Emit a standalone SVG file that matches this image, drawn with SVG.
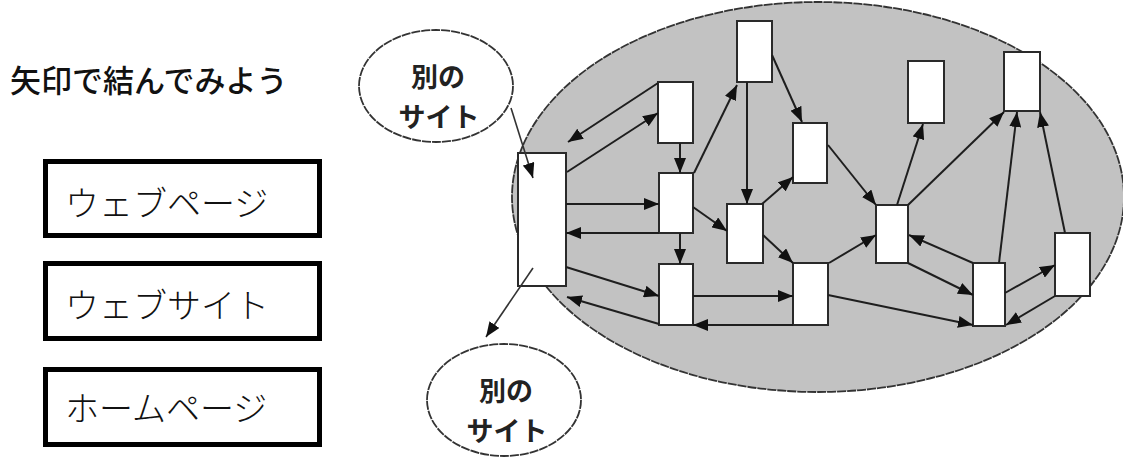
<svg xmlns="http://www.w3.org/2000/svg" width="1123" height="458" viewBox="0 0 1123 458">
<defs>
<style>
.page{fill:#fff;stroke:#2a2a2a;stroke-width:2}
.lbl{fill:#fff;stroke:#000;stroke-width:5}
.lt{font-family:"Noto Sans CJK JP",sans-serif;font-size:34px;font-weight:300;fill:#111}
.site{fill:#fff;stroke:#333;stroke-width:1.8;stroke-dasharray:9 1}
.st{font-family:"Noto Sans CJK JP",sans-serif;font-size:27px;font-weight:bold;fill:#222;text-anchor:middle}
.e{stroke:#1e1e1e;stroke-width:2;fill:none;marker-end:url(#ah)}
.x{stroke:#333;stroke-width:1.6;fill:none;marker-end:url(#ah)}
</style>
<marker id="ah" markerUnits="userSpaceOnUse" markerWidth="15" markerHeight="12" refX="15" refY="6" orient="auto">
<path d="M0,0 L15,6 L0,12 z" fill="#111"/>
</marker>
</defs>
<rect width="1123" height="458" fill="#fff"/>
<g id="title"><text x="10" y="92" font-family="'Noto Sans CJK JP',sans-serif" font-size="31" font-weight="500" fill="#111">矢印で結んでみよう</text></g>
<g id="label-webpage"><rect class="lbl" x="45.5" y="161.5" width="274" height="74"/><text class="lt" x="65" y="216">ウェブページ</text></g>
<g id="label-website"><rect class="lbl" x="45.5" y="263.5" width="274" height="75"/><text class="lt" x="65" y="318">ウェブサイト</text></g>
<g id="label-homepage"><rect class="lbl" x="45.5" y="369.5" width="274" height="75"/><text class="lt" x="65" y="421">ホームページ</text></g>
<g id="site-area"><ellipse cx="818" cy="197" rx="306" ry="195" fill="#c2c2c2" stroke="#333" stroke-width="1.8" stroke-dasharray="9 1"/></g>
<g id="other-site-top"><ellipse class="site" cx="436" cy="86" rx="77" ry="56"/><text class="st" x="438" y="87">別の</text><text class="st" x="439" y="127">サイト</text></g>
<g id="other-site-bottom"><ellipse class="site" cx="504" cy="400" rx="77" ry="56"/><text class="st" x="506" y="401">別の</text><text class="st" x="507" y="441">サイト</text></g>
<g id="A"><rect class="page" x="518" y="153" width="48" height="133"/></g>
<g id="B"><rect class="page" x="658" y="82" width="35" height="61"/></g>
<g id="C"><rect class="page" x="737" y="21" width="35" height="61"/></g>
<g id="D"><rect class="page" x="793" y="123" width="34" height="60"/></g>
<g id="E"><rect class="page" x="659" y="173" width="34" height="60"/></g>
<g id="F"><rect class="page" x="727" y="204" width="36" height="59"/></g>
<g id="G"><rect class="page" x="659" y="264" width="34" height="61"/></g>
<g id="H"><rect class="page" x="793" y="263" width="35" height="62"/></g>
<g id="I"><rect class="page" x="908" y="61" width="36" height="62"/></g>
<g id="J"><rect class="page" x="1004" y="52" width="36" height="59"/></g>
<g id="K"><rect class="page" x="876" y="205" width="32" height="58"/></g>
<g id="L"><rect class="page" x="973" y="263" width="32" height="63"/></g>
<g id="M"><rect class="page" x="1055" y="233" width="35" height="63"/></g>
<g id="connectors">
<line class="x" x1="511" y1="108" x2="533" y2="178"/>
<line class="x" x1="533" y1="268" x2="486" y2="337"/>
<line class="e" x1="658" y1="83" x2="568" y2="142"/>
<line class="e" x1="567" y1="172" x2="658" y2="113"/>
<line class="e" x1="680" y1="143" x2="680" y2="173"/>
<line class="e" x1="694" y1="173" x2="737" y2="85"/>
<line class="e" x1="747" y1="82" x2="747" y2="204"/>
<line class="e" x1="772" y1="55" x2="802" y2="122"/>
<line class="e" x1="762" y1="204" x2="793" y2="177"/>
<line class="e" x1="566" y1="204" x2="659" y2="204"/>
<line class="e" x1="693" y1="207" x2="727" y2="231"/>
<line class="e" x1="659" y1="233" x2="566" y2="233"/>
<line class="e" x1="680" y1="233" x2="680" y2="264"/>
<line class="e" x1="566" y1="267" x2="659" y2="296"/>
<line class="e" x1="659" y1="324" x2="567" y2="297"/>
<line class="e" x1="693" y1="296" x2="793" y2="296"/>
<line class="e" x1="793" y1="325" x2="693" y2="325"/>
<line class="e" x1="763" y1="235" x2="793" y2="263"/>
<line class="e" x1="828" y1="145" x2="876" y2="205"/>
<line class="e" x1="897" y1="205" x2="923" y2="124"/>
<line class="e" x1="908" y1="205" x2="1004" y2="112"/>
<line class="e" x1="999" y1="263" x2="1017" y2="112"/>
<line class="e" x1="1065" y1="233" x2="1040" y2="112"/>
<line class="e" x1="829" y1="263" x2="876" y2="235"/>
<line class="e" x1="908" y1="263" x2="973" y2="295"/>
<line class="e" x1="973" y1="263" x2="909" y2="235"/>
<line class="e" x1="828" y1="295" x2="973" y2="325"/>
<line class="e" x1="1005" y1="293" x2="1055" y2="265"/>
<line class="e" x1="1055" y1="296" x2="1006" y2="325"/>
</g>
</svg>
